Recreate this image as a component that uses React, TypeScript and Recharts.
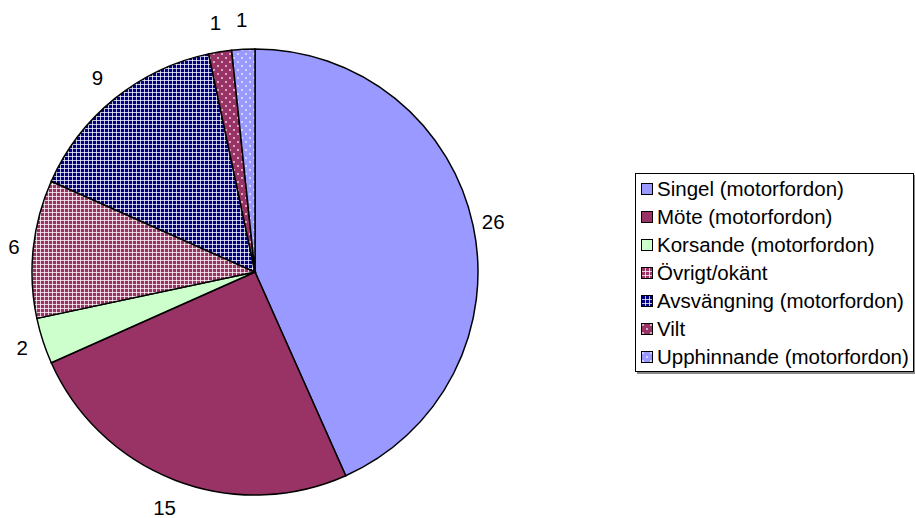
import { PieChart, Pie, Cell, Legend } from "recharts";

const categories = [
  "Singel (motorfordon)",
  "Möte (motorfordon)",
  "Korsande (motorfordon)",
  "Övrigt/okänt",
  "Avsvängning (motorfordon)",
  "Vilt",
  "Upphinnande (motorfordon)",
];
const values = [26, 15, 2, 6, 9, 1, 1];
const fills = [
  "#9999FF",
  "#993366",
  "#CCFFCC",
  "url(#gridMaroon)",
  "url(#gridNavy)",
  "url(#dotsMaroon)",
  "url(#dotsBlue)",
];

const data = categories.map((name, i) => ({ name, value: values[i] }));
const FONT = "'Liberation Sans', Arial, sans-serif";
const RADIAN = Math.PI / 180;

function Patterns() {
  return (
    <svg width={0} height={0} style={{ position: "absolute" }}>
      <defs>
        <pattern id="gridMaroon" patternUnits="userSpaceOnUse" width={4} height={4}>
          <rect width={4} height={4} fill="#993366" />
          <rect width={1} height={4} fill="#ffffff" opacity={0.75} />
          <rect width={4} height={1} fill="#ffffff" opacity={0.75} />
        </pattern>
        <pattern id="gridNavy" patternUnits="userSpaceOnUse" width={4} height={4}>
          <rect width={4} height={4} fill="#000080" />
          <rect width={1} height={4} fill="#ffffff" opacity={0.75} />
          <rect width={4} height={1} fill="#ffffff" opacity={0.75} />
        </pattern>
        <pattern id="dotsMaroon" patternUnits="userSpaceOnUse" width={8} height={8}>
          <rect width={8} height={8} fill="#993366" />
          <circle cx={2} cy={2} r={0.9} fill="#ffffff" opacity={0.85} />
          <circle cx={6} cy={6} r={0.9} fill="#ffffff" opacity={0.85} />
        </pattern>
        <pattern id="dotsBlue" patternUnits="userSpaceOnUse" width={8} height={8}>
          <rect width={8} height={8} fill="#9999FF" />
          <circle cx={2} cy={2} r={0.9} fill="#ffffff" opacity={0.85} />
          <circle cx={6} cy={6} r={0.9} fill="#ffffff" opacity={0.85} />
        </pattern>
      </defs>
    </svg>
  );
}

const renderLabel = (props: any) => {
  const { cx, cy, midAngle, outerRadius, value } = props;
  const cos = Math.cos(-midAngle * RADIAN);
  const sin = Math.sin(-midAngle * RADIAN);
  const r = outerRadius + 18 + 12 * Math.abs(sin);
  return (
    <text
      x={cx + r * cos}
      y={cy + r * sin}
      textAnchor="middle"
      dominantBaseline="central"
      fontFamily={FONT}
      fontSize={20.5}
      fill="#000"
    >
      {value}
    </text>
  );
};

const renderLegend = () => (
  <div
    style={{
      border: "1px solid #000",
      boxShadow: "2px 2px 0 #888",
      background: "#fff",
      padding: "1px 4px 0 5px",
      fontFamily: FONT,
      fontSize: 20.5,
      color: "#000",
    }}
  >
    {categories.map((c, i) => (
      <div key={c} style={{ display: "flex", alignItems: "center", height: 28 }}>
        <svg width={12} height={12} style={{ marginRight: 4 }}>
          <rect x={0.5} y={0.5} width={11} height={11} fill={fills[i]} stroke="#000" strokeWidth={1} />
        </svg>
        <span>{c}</span>
      </div>
    ))}
  </div>
);

export default function App() {
  return (
    <div style={{ position: "absolute", left: 0, top: 0, width: 915, height: 518, background: "#fff" }}>
      <Patterns />
      <PieChart width={915} height={518}>
        <Pie
          data={data}
          dataKey="value"
          nameKey="name"
          cx={250}
          cy={267}
          outerRadius={223}
          startAngle={90}
          endAngle={-270}
          stroke="#000"
          strokeWidth={1.5}
          label={renderLabel}
          labelLine={false}
          isAnimationActive={false}
        >
          {data.map((d, i) => (
            <Cell key={d.name} fill={fills[i]} />
          ))}
        </Pie>
        <Legend
          content={renderLegend}
          wrapperStyle={{ position: "absolute", left: 635, top: 173, width: "auto" }}
        />
      </PieChart>
    </div>
  );
}
